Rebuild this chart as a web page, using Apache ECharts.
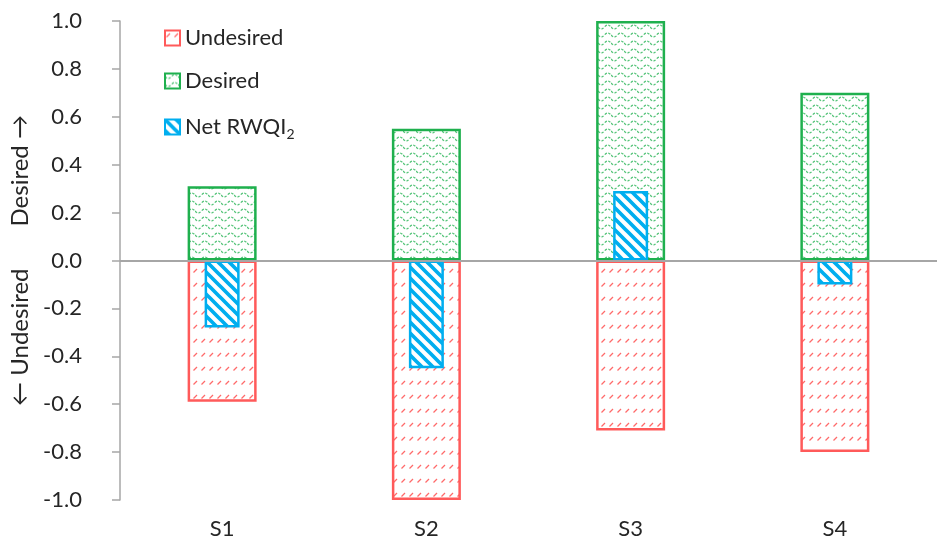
<!DOCTYPE html>
<html>
<head>
<meta charset="utf-8">
<script src="https://cdn.jsdelivr.net/npm/echarts@6/dist/echarts.min.js"></script>
<style>
  html, body { margin: 0; padding: 0; background: #fff; }
  #chart { width: 937px; height: 552px; }
</style>
</head>
<body>
<div id="chart"></div>
<script>
// Sites and scores
const categories = ['S1', 'S2', 'S3', 'S4'];
const undesired = [-0.59, -1.00, -0.71, -0.80];
const desired = [0.31, 0.55, 1.00, 0.70];
const netRWQI = [-0.28, -0.45, 0.29, -0.10];

const FONT = 'Lato, "Open Sans", sans-serif';
const TEXT = '#262626';
const RED = '#ff5a5a';
const GREEN = '#1fb04e';
const BLUE = '#00aeef';

// Small repeating tiles used as hatch fills
function tile(w, h, draw) {
  const c = document.createElement('canvas');
  c.width = w; c.height = h;
  const ctx = c.getContext('2d');
  ctx.fillStyle = '#ffffff';
  ctx.fillRect(0, 0, w, h);
  draw(ctx, w, h);
  return c;
}

// short slanted dashes in rows
const redTile = tile(8, 14, (ctx) => {
  ctx.strokeStyle = 'rgba(255,80,80,0.85)';
  ctx.lineWidth = 1.3;
  ctx.beginPath();
  ctx.moveTo(1.5, 6.5);
  ctx.lineTo(5, 3);
  ctx.stroke();
});

// wavy rows
const greenTile = tile(13, 8, (ctx) => {
  ctx.strokeStyle = 'rgba(30,176,78,0.75)';
  ctx.lineWidth = 1.2;
  ctx.setLineDash([2.5, 1.5]);
  ctx.beginPath();
  ctx.moveTo(0, 3);
  ctx.quadraticCurveTo(3.25, 7, 6.5, 3);
  ctx.quadraticCurveTo(9.75, -1, 13, 3);
  ctx.stroke();
});

// diagonal stripes (top-left to bottom-right)
const blueTile = tile(11, 11, (ctx) => {
  ctx.strokeStyle = BLUE;
  ctx.lineWidth = 3.7;
  ctx.beginPath();
  ctx.moveTo(-2, -2); ctx.lineTo(13, 13);
  ctx.moveTo(-13, -2); ctx.lineTo(2, 13);
  ctx.moveTo(9, -2); ctx.lineTo(24, 13);
  ctx.stroke();
});

const chart = echarts.init(document.getElementById('chart'));

chart.setOption({
  animation: false,
  backgroundColor: '#ffffff',
  textStyle: { fontFamily: FONT },
  grid: { left: 120, top: 21, width: 823, bottom: 52, containLabel: false },
  legend: {
    orient: 'vertical',
    left: 159,
    top: 22,
    itemWidth: 15,
    itemHeight: 15,
    itemGap: 21,
    icon: 'rect',
    textStyle: {
      fontFamily: FONT,
      fontSize: 22,
      color: TEXT,
      rich: {
        a: { fontFamily: FONT, fontSize: 22, color: TEXT, lineHeight: 26 },
        s: { fontFamily: FONT, fontSize: 14, color: TEXT, lineHeight: 26, padding: [14, 0, 0, 0] }
      }
    },
    formatter: function (name) {
      if (name === 'Net RWQI2') return '{a|Net RWQI}{s|2}';
      return '{a|' + name + '}';
    },
    data: ['Undesired', 'Desired', 'Net RWQI2']
  },
  xAxis: [
    {
      type: 'category',
      data: categories,
      position: 'bottom',
      axisLine: { show: false },
      axisTick: { show: false },
      axisLabel: { fontFamily: FONT, fontSize: 22, color: TEXT, margin: 18 },
      splitLine: { show: false }
    },
    {
      type: 'category',
      data: categories,
      show: false
    }
  ],
  yAxis: {
    type: 'value',
    min: -1,
    max: 1,
    interval: 0.2,
    name: '{t|\u2190 Undesired}{g|}{t|Desired \u2192}',
    nameLocation: 'middle',
    nameGap: 87,
    nameTextStyle: {
      fontFamily: FONT, fontSize: 24, color: TEXT,
      rich: {
        t: { fontFamily: FONT, fontSize: 24, color: TEXT },
        g: { width: 42 }
      }
    },
    axisLine: { show: true, lineStyle: { color: '#a6a6a6', width: 1.5 } },
    axisTick: { show: true, length: 8, lineStyle: { color: '#a6a6a6', width: 1.5 } },
    axisLabel: {
      fontFamily: FONT, fontSize: 22, color: TEXT, margin: 38,
      formatter: (v) => v.toFixed(1)
    },
    splitLine: { show: false }
  },
  series: [
    {
      name: 'Undesired',
      type: 'bar',
      stack: 'score',
      xAxisIndex: 0,
      barWidth: 69,
      data: undesired,
      itemStyle: { color: { image: redTile, repeat: 'repeat' }, borderColor: RED, borderWidth: 2.5 },
      z: 2,
      markLine: {
        silent: true,
        symbol: ['none', 'none'],
        label: { show: false },
        lineStyle: { color: '#a6a6a6', width: 2, type: 'solid' },
        data: [{ yAxis: 0 }]
      }
    },
    {
      name: 'Desired',
      type: 'bar',
      stack: 'score',
      xAxisIndex: 0,
      barWidth: 69,
      data: desired,
      itemStyle: { color: { image: greenTile, repeat: 'repeat' }, borderColor: GREEN, borderWidth: 2.5 },
      z: 2
    },
    {
      name: 'Net RWQI2',
      type: 'bar',
      xAxisIndex: 1,
      barWidth: 35,
      data: netRWQI,
      itemStyle: { color: { image: blueTile, repeat: 'repeat' }, borderColor: BLUE, borderWidth: 2.5 },
      z: 4
    }
  ]
});
</script>
</body>
</html>
